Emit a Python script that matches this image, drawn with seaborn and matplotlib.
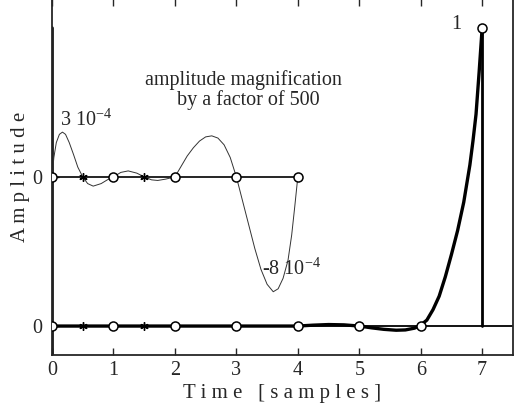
import numpy as np
import pandas as pd
import matplotlib.pyplot as plt
import seaborn as sns

sns.set_style("ticks")
plt.rcParams['font.family'] = ['Liberation Serif', 'DejaVu Serif']
plt.rcParams['mathtext.fontset'] = 'custom'
plt.rcParams['mathtext.rm'] = 'Liberation Serif'
plt.rcParams['mathtext.default'] = 'regular'

# magnified part (values in units of 1e-4), shown offset by 0.5
mag_x = [0, 0.03, 0.07, 0.12, 0.17, 0.22, 0.28, 0.35, 0.42, 0.5, 0.58, 0.67,
         0.8, 0.9, 1.0, 1.12, 1.24, 1.38, 1.5, 1.62, 1.72, 1.85, 2.0, 2.1, 2.2,
         2.3, 2.4, 2.5, 2.6, 2.7, 2.8, 2.9, 3.0, 3.1, 3.2, 3.3, 3.4, 3.5, 3.6,
         3.68, 3.76, 3.84, 3.9, 3.95, 4.0]
mag_y = [0, 1.3, 2.3, 2.85, 3.0, 2.85, 2.3, 1.5, 0.65, 0, -0.45, -0.62,
         -0.45, -0.2, 0, 0.3, 0.4, 0.25, 0, -0.2, -0.24, -0.15, 0, 0.7, 1.4,
         1.95, 2.4, 2.68, 2.75, 2.6, 2.15, 1.3, 0, -1.6, -3.2, -4.8, -6.2, -7.2, -7.7,
         -7.5, -6.8, -5.6, -3.9, -2.0, 0]
magnification = 500
offset = 0.5

# full scale kernel
ker_x = [0, 1, 2, 3, 4.0, 4.25, 4.5, 4.75, 5.0, 5.2, 5.4, 5.6, 5.75, 5.9, 6.0,
         6.1, 6.2, 6.3, 6.4, 6.5, 6.6, 6.7, 6.8, 6.85, 6.9, 6.95, 7.0]
ker_y = [0, 0, 0, 0, 0, 0.003, 0.005, 0.004, 0, -0.006, -0.011, -0.014, -0.013,
         -0.007, 0.003, 0.02, 0.055, 0.1, 0.165, 0.24, 0.32, 0.415, 0.54, 0.62,
         0.71, 0.85, 1.0]

circ_x_low = [0, 1, 2, 3, 4, 5, 6, 7]
circ_y_low = [0, 0, 0, 0, 0, 0, 0, 1]
circ_x_up = [0, 1, 2, 3, 4]
star_x = [0.5, 1.5]

fig = plt.figure(figsize=(5.16, 4.17), dpi=100)
ax = fig.add_axes([0.1008, 0.1487, 0.8932, 0.8543])

ax.axhline(0, color='black', lw=1.3, zorder=1)
ax.plot([0, 0], [-0.1, 1], color='black', lw=2.6, zorder=2)
ax.plot([7, 7], [0, 1], color='black', lw=2.0, zorder=2)
ax.plot([0, 4], [offset, offset], color='black', lw=1.2, zorder=1)

mag = pd.DataFrame({'x': mag_x, 'y': np.array(mag_y) * 1e-4 * magnification + offset})
ker = pd.DataFrame({'x': ker_x, 'y': ker_y})
sns.lineplot(data=mag, x='x', y='y', color='#333333', lw=0.7, sort=False, ax=ax)
sns.lineplot(data=ker, x='x', y='y', color='black', lw=2.4, sort=False, ax=ax)

ast = (6, 2, 0)
ax.plot(circ_x_low, circ_y_low, 'o', mfc='white', mec='black', ms=6.5, mew=1.1, zorder=5)
ax.plot(circ_x_up, [offset] * len(circ_x_up), 'o', mfc='white', mec='black', ms=6.5, mew=1.1, zorder=5)
ax.plot(star_x, [0, 0], marker=ast, ls='none', color='black', ms=6, mew=1.0, zorder=5)
ax.plot(star_x, [offset, offset], marker=ast, ls='none', color='black', ms=6, mew=1.0, zorder=5)

ax.text(0.13, 0.655, r'3 10$^{-4}$', fontsize=14.5, ha='left', va='bottom')
ax.text(3.41, 0.19, r'-8 10$^{-4}$', fontsize=14.5, ha='left', va='center')
ax.text(3.12, 0.79, 'amplitude magnification\n  by a factor of 500', fontsize=14.5,
        ha='center', va='center', linespacing=1.0)
ax.text(6.58, 1.01, '1', fontsize=14.5, ha='center', va='center')

ax.set_xlim(0, 7.5)
ax.set_ylim(-0.097, 1.097)
ax.set_xticks(range(8))
ax.set_yticks([0, offset])
ax.set_yticklabels(['0', '0'])
ax.tick_params(axis='both', direction='in', labelsize=14.5, length=5, width=1,
               top=True, pad=4)
ax.tick_params(axis='y', pad=7)
for s in ax.spines.values():
    s.set_linewidth(1.3)
ax.set_xlabel('T i m e   [ s a m p l e s ]', fontsize=15, labelpad=3)
ax.set_ylabel('A m p l i t u d e', fontsize=15, labelpad=2)

fig.savefig('out.png', dpi=100)
